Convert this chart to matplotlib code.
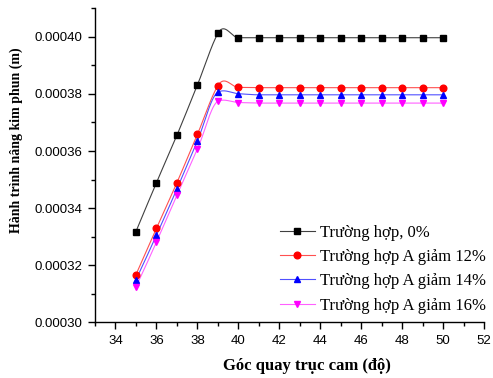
import numpy as np
import matplotlib
matplotlib.use("Agg")
import matplotlib.pyplot as plt
from matplotlib.ticker import MultipleLocator, FormatStrFormatter

angles = [35, 36, 37, 38, 39, 40, 41, 42, 43, 44, 45, 46, 47, 48, 49, 50]
case_0 = [0.0003318, 0.0003489, 0.0003655, 0.0003831, 0.0004012, 0.0003997,
          0.0003997, 0.0003997, 0.0003997, 0.0003997, 0.0003997, 0.0003997,
          0.0003997, 0.0003997, 0.0003997, 0.0003997]
case_12 = [0.0003167, 0.0003329, 0.0003489, 0.0003658, 0.0003829, 0.0003823,
           0.0003822, 0.0003822, 0.0003822, 0.0003822, 0.0003822, 0.0003822,
           0.0003822, 0.0003822, 0.0003822, 0.0003822]
case_14 = [0.0003149, 0.0003305, 0.0003467, 0.0003635, 0.0003806, 0.0003801,
           0.0003797, 0.0003797, 0.0003797, 0.0003797, 0.0003797, 0.0003797,
           0.0003797, 0.0003797, 0.0003797, 0.0003797]
case_16 = [0.0003124, 0.0003281, 0.0003445, 0.0003606, 0.0003774, 0.0003770,
           0.0003768, 0.0003768, 0.0003768, 0.0003768, 0.0003768, 0.0003768,
           0.0003768, 0.0003768, 0.0003768, 0.0003768]
labels = ["Trường hợp, 0%", "Trường hợp A giảm 12%",
          "Trường hợp A giảm 14%", "Trường hợp A giảm 16%"]


def akima_curve(x, y, per_seg=30):
    x = np.asarray(x, float)
    y = np.asarray(y, float)
    h = np.diff(x)
    m = np.diff(y) / h
    mm = np.concatenate([[3 * m[0] - 2 * m[1], 2 * m[0] - m[1]], m,
                         [2 * m[-1] - m[-2], 3 * m[-1] - 2 * m[-2]]])
    n = len(x)
    t = np.zeros(n)
    for i in range(n):
        w1 = abs(mm[i + 3] - mm[i + 2])
        w2 = abs(mm[i + 1] - mm[i])
        if w1 + w2 == 0:
            t[i] = 0.5 * (mm[i + 1] + mm[i + 2])
        else:
            t[i] = (w1 * mm[i + 1] + w2 * mm[i + 2]) / (w1 + w2)
    xs, ys = [], []
    for i in range(n - 1):
        s = np.linspace(0, 1, per_seg, endpoint=(i == n - 2))
        h00 = 2 * s**3 - 3 * s**2 + 1
        h10 = s**3 - 2 * s**2 + s
        h01 = -2 * s**3 + 3 * s**2
        h11 = s**3 - s**2
        xs.append(x[i] + s * h[i])
        ys.append(h00 * y[i] + h10 * h[i] * t[i] + h01 * y[i + 1]
                  + h11 * h[i] * t[i + 1])
    return np.concatenate(xs), np.concatenate(ys)


fig = plt.figure(figsize=(4.93, 3.78), dpi=100)
ax = fig.add_axes([0.1927, 0.1473, 0.7890, 0.8307])

series = [case_0, case_12, case_14, case_16]
markers = ["s", "o", "^", "v"]
mcolors = ["#000000", "#ff0000", "#0000ff", "#ff00ff"]
lcolors = ["#404040", "#ff5050", "#5050ff", "#ff60ff"]

handles = []
for vals, mk, mc, lc, lab in zip(series, markers, mcolors, lcolors, labels):
    xs, ys = akima_curve(angles, vals)
    ax.plot(xs, ys, color=lc, lw=0.8, zorder=2)
    ax.plot(angles, vals, linestyle="none", marker=mk, color=mc,
            markersize=4.8, zorder=3)
    h, = ax.plot([], [], color=lc, lw=0.8, marker=mk, markerfacecolor=mc,
                 markeredgecolor=mc, markersize=4.8, label=lab)
    handles.append(h)

ax.set_xlim(33, 52)
ax.set_ylim(0.00030, 0.00041)
ax.xaxis.set_major_locator(MultipleLocator(2))
ax.xaxis.set_minor_locator(MultipleLocator(1))
ax.yaxis.set_major_locator(MultipleLocator(0.00002))
ax.yaxis.set_minor_locator(MultipleLocator(0.00001))
ax.yaxis.set_major_formatter(FormatStrFormatter("%.5f"))

for s in ["top", "right"]:
    ax.spines[s].set_visible(False)
for s in ["left", "bottom"]:
    ax.spines[s].set_linewidth(1.0)

ax.tick_params(which="major", direction="out", length=5, width=1,
               labelsize=9.5, pad=4)
ax.tick_params(which="minor", direction="out", length=3, width=1)
for t in ax.get_xticklabels() + ax.get_yticklabels():
    t.set_fontfamily("Liberation Sans")

ax.set_xlabel("Góc quay trục cam (độ)", fontfamily="Liberation Serif",
              fontweight="bold", fontsize=12)
ax.set_ylabel("Hành trình nâng kim phun (m)", fontfamily="Liberation Serif",
              fontweight="bold", fontsize=10)
ax.xaxis.set_label_coords(0.545, -0.113)
ax.yaxis.set_label_coords(-0.185, 0.58)

leg = ax.legend(handles=handles, loc="lower right", frameon=False,
                prop={"family": "Liberation Serif", "size": 12},
                handlelength=2.1, handletextpad=0.35, labelspacing=0.5,
                bbox_to_anchor=(1.045, -0.02))

fig.savefig("out.png", dpi=100)
